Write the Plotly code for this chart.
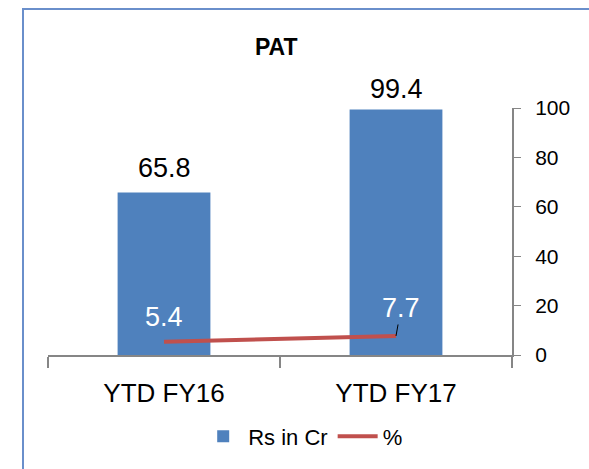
import plotly.graph_objects as go

categories = ["YTD FY16", "YTD FY17"]
pat_values = [65.8, 99.4]
pct_values = [5.4, 7.7]
y_ticks = [0, 20, 40, 60, 80, 100]

BLUE = "#4F81BD"
RED = "#C0504D"
AXIS = "#868686"
FONT = "Liberation Sans"

fig = go.Figure()
fig.add_trace(go.Bar(x=categories, y=pat_values, name="Rs in Cr",
                     marker=dict(color=BLUE, line=dict(width=0))))
fig.add_trace(go.Scatter(x=categories, y=pct_values, name="%", mode="lines",
                         line=dict(color=RED, width=4)))

# bar value labels
for c, v, ys in zip(categories, pat_values, [7, 3]):
    fig.add_annotation(x=c, y=v, text=f"{v}", showarrow=False, yanchor="bottom",
                       yshift=ys, font=dict(size=27, color="#000000", family=FONT))
# percent labels (white, inside bars)
fig.add_annotation(x=categories[0], y=pct_values[0], text=f"{pct_values[0]}",
                   showarrow=False, yshift=25, font=dict(size=27, color="white", family=FONT))
fig.add_annotation(x=categories[1], y=pct_values[1], text=f"{pct_values[1]}",
                   showarrow=True, arrowhead=0, arrowwidth=1, arrowcolor="#000000",
                   ax=5, ay=-28, font=dict(size=27, color="white", family=FONT))

fig.update_layout(
    width=589, height=469,
    margin=dict(l=48, r=77, t=108, b=114),
    paper_bgcolor="white", plot_bgcolor="white",
    bargap=0.60,
    showlegend=True,
    legend=dict(orientation="h", x=0.55, xanchor="center", y=-0.33, yanchor="middle",
                font=dict(size=22, color="#000000", family=FONT), itemwidth=40,
                bgcolor="rgba(0,0,0,0)", tracegroupgap=0),
    title=dict(text="<b>PAT</b>", x=0.469, xanchor="center", y=1 - 47 / 469, yanchor="middle",
               font=dict(size=23, color="#000000", family=FONT)),
    font=dict(family=FONT, color="#000000"),
    xaxis=dict(showline=True, linecolor=AXIS, linewidth=2, ticks="outside", ticklen=11,
               tickcolor=AXIS, tickwidth=2, tickson="boundaries", ticklabelstandoff=14,
               tickfont=dict(size=26, color="#000000", family=FONT), showgrid=False),
    yaxis=dict(side="right", range=[0, 100], tickvals=y_ticks, showline=True,
               linecolor=AXIS, linewidth=2, ticks="outside", ticklen=7, tickcolor=AXIS,
               tickwidth=1, showgrid=False, zeroline=False,
               tickfont=dict(size=21, color="#000000", family=FONT), ticklabelstandoff=10),
)

# outer chart frame (light blue border, partially outside the view)
fig.add_shape(type="rect", xref="paper", yref="paper",
              x0=(23 - 48) / 464, x1=(620 - 48) / 464,
              y0=(355 - 500) / 247, y1=(355 - 9) / 247,
              line=dict(color="#6A8FCB", width=2), fillcolor="rgba(0,0,0,0)", layer="below")

fig.write_html("out.html")
